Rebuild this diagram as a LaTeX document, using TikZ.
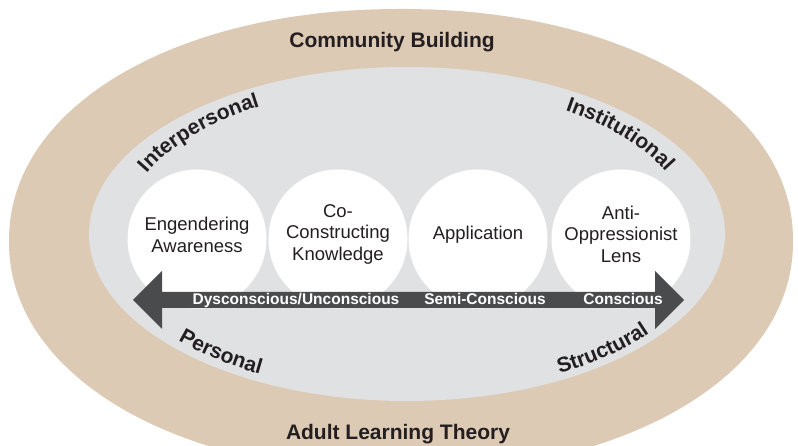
\documentclass[tikz,border=0pt]{standalone}
\usepackage{fontspec}
\setmainfont{Liberation Sans}
\usetikzlibrary{decorations.text,calc}
\definecolor{tanband}{HTML}{DDCAB5}
\definecolor{innergray}{HTML}{E0E1E3}
\definecolor{arrowgray}{HTML}{4A4B4D}
\definecolor{ink}{HTML}{231F20}
\begin{document}
\begin{tikzpicture}[x=1pt,y=1pt,
  stage/.style={circle, fill=white, minimum size=139pt, inner sep=0pt},
  circlab/.style={font=\fontsize{18.5}{21.5}\selectfont, text=ink, align=center},
  titlelab/.style={font=\fontsize{21}{25}\selectfont\bfseries, text=ink, anchor=base},
  arrlab/.style={font=\fontsize{15.5}{18}\selectfont\bfseries, text=white, anchor=base},
  curvelab/.style={decorate, decoration={text along path, text align=center,
      text={|\fontsize{21}{25}\selectfont\bfseries\color{ink}|#1}}}
]
\useasboundingbox (0,0) rectangle (798,446);
\clip (0,0) rectangle (798,446);
% outer band (slightly superelliptic)
\fill[tanband] plot[domain=0.5:360.5, samples=240, variable=\t]
  ({401 + 392*sign(cos(\t))*(max(abs(cos(\t)),0.0001))^(0.96)},
   {205 + 232*sign(sin(\t))*(max(abs(sin(\t)),0.0001))^(0.96)}) -- cycle;
% inner band
\fill[innergray] (407,212) ellipse [x radius=318pt, y radius=167pt];
\coordinate (C) at (407,212);
% stage circles
\node[stage] (s1) at (197,207) {};
\node[stage] (s2) at (338,207) {};
\node[stage] (s3) at (478,207) {};
\node[stage] (s4) at (621,207) {};
\node[circlab] (t1) at ([yshift=4pt]s1.center) {Engendering\\Awareness};
\node[circlab] (t2) at ([yshift=5pt]s2.center) {Co-\\Constructing\\Knowledge};
\node[circlab] (t3) at ([yshift=4pt]s3.center) {Application};
\node[circlab] (t4) at ([yshift=5pt]s4.center) {Anti-\\Oppressionist\\Lens};
% double arrow
\coordinate (aL) at (133,146);
\coordinate (aR) at (684,146);
\fill[arrowgray] (aL) -- ++(29,29) -- ++(0,-21) -- ($(aR)+(-29,8)$) -- ++(0,21)
  -- (aR) -- ++(-29,-29) -- ++(0,21) -- ($(aL)+(29,-8)$) -- ++(0,-21) -- cycle;
\node[arrlab] (u) at (296,141) {Dysconscious/Unconscious};
\node[arrlab] (sc) at (485,141) {Semi-Conscious};
\node[arrlab] (c) at (623,141) {Conscious};
% titles
\node[titlelab] (cb) at (392,398) {Community Building};
\node[titlelab] (alt) at (398,6) {Adult Learning Theory};
% curved labels
\path[curvelab=Interpersonal] ([shift={(174:285pt and 149pt)}]C)
  arc[start angle=174, end angle=110, x radius=285pt, y radius=149pt];
\path[curvelab=Institutional] ([shift={(68:285pt and 149pt)}]C)
  arc[start angle=68, end angle=6, x radius=285pt, y radius=149pt];
\path[curvelab=Personal] ([shift={(198:306pt and 160pt)}]C)
  arc[start angle=198, end angle=258, x radius=306pt, y radius=160pt];
\path[curvelab=Structural] ([shift={(284:307.5pt and 161pt)}]C)
  arc[start angle=284, end angle=345, x radius=307.5pt, y radius=161pt];
\end{tikzpicture}
\end{document}
